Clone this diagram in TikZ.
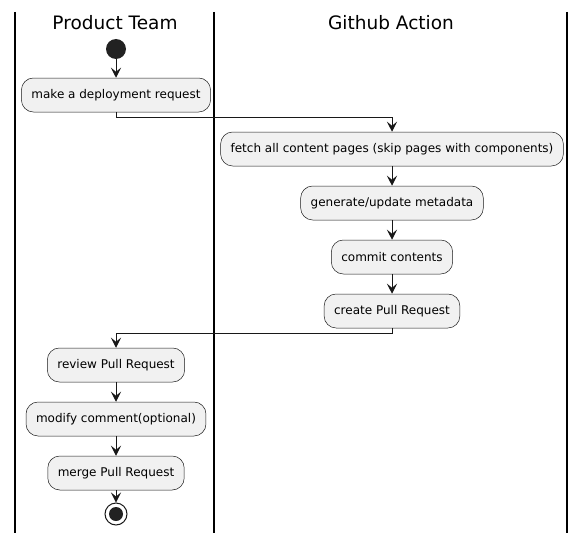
\documentclass[tikz,border=0pt]{standalone}
\usepackage{fontspec}
\setmainfont{DejaVu Sans}
\usetikzlibrary{arrows.meta}
\usetikzlibrary{positioning}

\definecolor{boxfill}{HTML}{F1F1F1}
\definecolor{linecol}{HTML}{181818}
\definecolor{dotcol}{HTML}{222222}

\tikzset{
    activity/.style={draw=linecol, line width=0.5pt, fill=boxfill, rounded corners=12pt,
        minimum height=34pt, inner xsep=10pt, font=\fontsize{12}{14}\selectfont},
    flow/.style={draw=linecol, line width=1pt, -{Stealth[length=10pt, width=10pt, inset=4pt]}},
    lane/.style={draw=black, line width=1.5pt},
    lane_title/.style={font=\fontsize{18.5}{22}\selectfont}
}

\begin{document}
\begin{tikzpicture}[x=1pt, y=-1pt]
    \useasboundingbox (0,0) rectangle (586,543);

    % swimlanes
    \draw [lane] (15,12) -- (15,533);
    \draw [lane] (214,12) -- (214,533);
    \draw [lane] (567,12) -- (567,533);
    \node (team_title) [lane_title] at (115,23) {Product Team};
    \node (action_title) [lane_title] at (391,23) {Github Action};

    \node (start) [circle, fill=dotcol, minimum size=20pt, inner sep=0pt] at (116,49) {};

    \node (request) [activity] at (116,95) {make a deployment request};
    \node (fetch) [activity] at (392,149) {fetch all content pages (skip pages with components)};
    \node (metadata) [activity] at (392,203) {generate/update metadata};
    \node (commit) [activity] at (392,257) {commit contents};
    \node (create_pr) [activity] at (392,311) {create Pull Request};
    \node (review) [activity] at (116,365) {review Pull Request};
    \node (modify) [activity] at (116,419) {modify comment(optional)};
    \node (merge) [activity] at (116,473) {merge Pull Request};

    \node (stop) [circle, draw=linecol, line width=1pt, fill=white, minimum size=22pt, inner sep=0pt] at (116,514) {};
    \node (stop_dot) [circle, fill=dotcol, minimum size=14pt, inner sep=0pt] at (stop) {};

    \draw [flow] (start) -- (request);
    \draw [flow] (request.south) -- ++(0,5) -| (fetch.north);
    \draw [flow] (fetch) -- (metadata);
    \draw [flow] (metadata) -- (commit);
    \draw [flow] (commit) -- (create_pr);
    \draw [flow] (create_pr.south) -- ++(0,5) -| (review.north);
    \draw [flow] (review) -- (modify);
    \draw [flow] (modify) -- (merge);
    \draw [flow] (merge) -- (stop);

\end{tikzpicture}
\end{document}
